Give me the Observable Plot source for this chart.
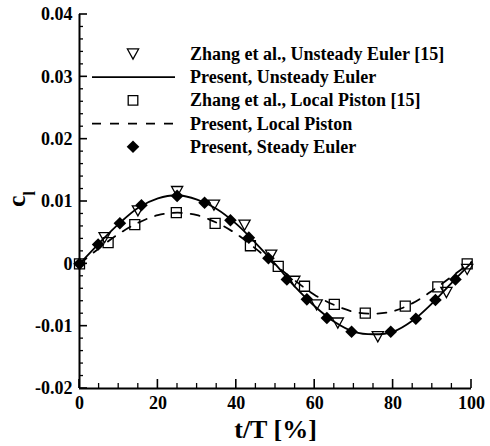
<!DOCTYPE html>
<html>
<head>
<meta charset="utf-8">
<script src="https://cdn.jsdelivr.net/npm/d3@7"></script>
<script src="https://cdn.jsdelivr.net/npm/@observablehq/plot@0.6"></script>
<style>
  html, body { margin: 0; padding: 0; background: #fff; }
  svg { display: block; }
</style>
</head>
<body>
<div id="chart"></div>
<script>
// Lift coefficient over one pitching period (t/T in %)

// Continuous curves, sampled every 5% of the period
const tLine = [0, 5, 10, 15, 20, 25, 30, 35, 40, 45, 50, 55, 60, 65, 70, 75, 80, 85, 90, 95, 100];
const clPresentUnsteady = [0, 0.0033, 0.0064, 0.0090, 0.0105, 0.0110, 0.0103, 0.0088, 0.0064, 0.0033, -0.0001,
  -0.0037, -0.0068, -0.0093, -0.0109, -0.0113, -0.0109, -0.0091, -0.0063, -0.0030, 0.0002];
const clPresentPiston = [0, 0.0025, 0.0048, 0.0066, 0.0078, 0.0082, 0.0078, 0.0066, 0.0048, 0.0024, -0.0002,
  -0.0027, -0.0050, -0.0066, -0.0077, -0.0080, -0.0076, -0.0063, -0.0043, -0.0020, 0.0003];

// Zhang et al., Unsteady Euler [15]
const tZhangEuler = [6.4, 14.9, 24.9, 34.3, 42.1, 48.9, 54.8, 60.5, 65.9, 76.1, 93.6, 98.9];
const clZhangEuler = [0.0042, 0.0085, 0.0116, 0.0094, 0.0062, 0.0014, -0.0028, -0.0066, -0.0095, -0.0117, -0.0046, -0.0009];

// Zhang et al., Local Piston [15]
const tZhangPiston = [0, 7.3, 14.1, 24.7, 34.6, 43.6, 50.7, 57.4, 65.0, 72.9, 83.1, 91.4, 98.9];
const clZhangPiston = [0, 0.0034, 0.0063, 0.0082, 0.0065, 0.0029, -0.0004, -0.0036, -0.0065, -0.0079, -0.0068, -0.0037, 0.0000];

// Present, Steady Euler
const tSteady = [0, 4.75, 10.3, 15.8, 24.9, 31.9, 38.5, 43.2, 48.2, 52.9, 58.0, 63.1, 69.4, 79.4, 85.8, 90.8, 95.9];
const clSteady = [0, 0.0031, 0.0065, 0.0094, 0.0109, 0.0098, 0.0070, 0.0042, 0.0009, -0.0025, -0.0057, -0.0087,
  -0.0109, -0.0109, -0.0088, -0.0058, -0.0025];

// Ticks
const xMajor = [0, 20, 40, 60, 80, 100];
const xMinor = [5, 10, 15, 25, 30, 35, 45, 50, 55, 65, 70, 75, 85, 90, 95];
const yMajor = [-0.02, -0.01, 0, 0.01, 0.02, 0.03, 0.04];
const yMinor = [-0.018, -0.016, -0.014, -0.012, -0.008, -0.006, -0.004, -0.002, 0.002, 0.004, 0.006, 0.008,
  0.012, 0.014, 0.016, 0.018, 0.022, 0.024, 0.026, 0.028, 0.032, 0.034, 0.036, 0.038];

const legendLabels = [
  "Zhang et al., Unsteady Euler [15]",
  "Present, Unsteady Euler",
  "Zhang et al., Local Piston [15]",
  "Present, Local Piston",
  "Present, Steady Euler"
];

const rows = (ts, cs) => ts.map((t, i) => ({t, cl: cs[i]}));

// Marker shapes (r = half-width)
const radius = size => Math.sqrt(size / Math.PI);
const triDown = {draw(ctx, size) { const r = radius(size);
  ctx.moveTo(-r, -0.9 * r); ctx.lineTo(r, -0.9 * r); ctx.lineTo(0, 0.9 * r); ctx.closePath(); }};
const squareOpen = {draw(ctx, size) { const r = radius(size);
  ctx.moveTo(-r, -r); ctx.lineTo(r, -r); ctx.lineTo(r, r); ctx.lineTo(-r, r); ctx.closePath(); }};
const diamond = {draw(ctx, size) { const r = radius(size);
  ctx.moveTo(0, -r); ctx.lineTo(r, 0); ctx.lineTo(0, r); ctx.lineTo(-r, 0); ctx.closePath(); }};

const FONT = "'Liberation Serif', 'Times New Roman', serif";
const fmtY = d => d === 0 ? "0" : d.toFixed(2);

// Frame geometry
const W = 490, H = 446, ML = 79, MR = 19, MT = 14, MB = 58;
const X0 = 0, X1 = 100, Y0 = -0.02, Y1 = 0.04;

const plot = Plot.plot({
  width: W,
  height: H,
  marginLeft: ML,
  marginRight: MR,
  marginTop: MT,
  marginBottom: MB,
  x: {domain: [X0, X1]},
  y: {domain: [Y0, Y1]},
  style: {fontFamily: FONT, fontWeight: "bold", fontSize: "18px", color: "#000", background: "#fff", overflow: "visible"},
  marks: [
    // tick labels
    Plot.axisX(xMajor, {tickSize: 0, tickPadding: 8, tickFormat: d => String(d), label: null}),
    Plot.axisY(yMajor, {tickSize: 0, tickPadding: 7, tickFormat: fmtY, label: null}),
    // frame (left and bottom)
    Plot.ruleY([Y0], {strokeWidth: 2}),
    Plot.ruleX([X0], {strokeWidth: 2}),
    Plot.line(rows(tLine, clPresentUnsteady), {x: "t", y: "cl", curve: "catmull-rom", stroke: "#000", strokeWidth: 1.8}),
    Plot.line(rows(tLine, clPresentPiston), {x: "t", y: "cl", curve: "catmull-rom", stroke: "#000", strokeWidth: 1.8, strokeDasharray: "9,9"}),
    Plot.dot(rows(tZhangEuler, clZhangEuler), {x: "t", y: "cl", symbol: triDown, r: 5.6, fill: "none", stroke: "#000", strokeWidth: 1.3}),
    Plot.dot(rows(tZhangPiston, clZhangPiston), {x: "t", y: "cl", symbol: squareOpen, r: 5, fill: "none", stroke: "#000", strokeWidth: 1.3}),
    Plot.dot(rows(tSteady, clSteady), {x: "t", y: "cl", symbol: diamond, r: 6.3, fill: "#000", stroke: "none"}),
    Plot.text(["t/T [%]"], {text: d => d, frameAnchor: "bottom", dy: 49, lineAnchor: "bottom", fontSize: 26, fontWeight: "bold"})
  ]
});

document.getElementById("chart").appendChild(plot);

const svg = d3.select(plot);
const sx = plot.scale("x");
const sy = plot.scale("y");

// Inward ticks, placed through the plot's own scales
const ticks = svg.append("g").attr("stroke", "#000").attr("fill", "none");
const xBase = sy.apply(Y0);
const yBase = sx.apply(X0);
const tickSets = [
  {values: xMinor, axis: "x", len: 5, width: 1.3},
  {values: xMajor, axis: "x", len: 9, width: 1.6},
  {values: yMinor, axis: "y", len: 4, width: 1.3},
  {values: yMajor, axis: "y", len: 8, width: 1.6}
];
tickSets.forEach(({values, axis, len, width}) => {
  values.forEach(v => {
    if (axis === "x") {
      const px = sx.apply(v);
      ticks.append("line").attr("x1", px).attr("x2", px).attr("y1", xBase).attr("y2", xBase - len).attr("stroke-width", width);
    } else {
      const py = sy.apply(v);
      ticks.append("line").attr("x1", yBase).attr("x2", yBase + len).attr("y1", py).attr("y2", py).attr("stroke-width", width);
    }
  });
});

// y-axis label: c with subscript l
const yl = svg.append("text")
  .attr("transform", "translate(25,199) rotate(-90)")
  .attr("text-anchor", "middle")
  .attr("font-family", FONT)
  .attr("font-weight", "bold")
  .attr("fill", "#000");
yl.append("tspan").attr("font-size", 26).text("c");
yl.append("tspan").attr("font-size", 16).attr("dy", 10).text("l");

// Legend inside the plot frame
const legend = svg.append("g")
  .attr("font-family", FONT)
  .attr("font-weight", "bold")
  .attr("font-size", 18)
  .attr("text-anchor", "start");
const kinds = ["tri", "solid", "square", "dashed", "diamond"];
const symX = 133, lineX0 = 92, lineX1 = 175, textX = 190;
kinds.forEach((kind, i) => {
  const cy = 54 + i * 23.2;
  const g = legend.append("g");
  if (kind === "solid" || kind === "dashed") {
    g.append("line").attr("x1", lineX0).attr("x2", lineX1).attr("y1", cy).attr("y2", cy)
      .attr("stroke", "#000").attr("stroke-width", 1.8)
      .attr("stroke-dasharray", kind === "dashed" ? "9,9" : null);
  } else {
    const p = d3.path();
    const shape = kind === "tri" ? triDown : kind === "square" ? squareOpen : diamond;
    const r = kind === "tri" ? 5.6 : kind === "square" ? 4.8 : 6.3;
    shape.draw(p, Math.PI * r * r);
    g.append("path").attr("d", p.toString()).attr("transform", `translate(${symX},${cy})`)
      .attr("fill", kind === "diamond" ? "#000" : "none")
      .attr("stroke", kind === "diamond" ? "none" : "#000")
      .attr("stroke-width", 1.3);
  }
  g.append("text").attr("x", textX).attr("y", cy + 6).attr("text-anchor", "start").attr("fill", "#000").text(legendLabels[i]);
});
</script>
</body>
</html>
